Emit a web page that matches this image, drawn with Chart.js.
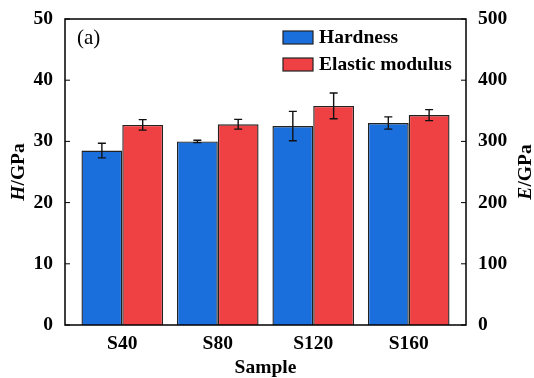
<!DOCTYPE html>
<html>
<head>
<meta charset="utf-8">
<script src="https://cdn.jsdelivr.net/npm/chart.js@4/dist/chart.umd.min.js"></script>
<style>
  html, body { margin: 0; padding: 0; background: #fff; }
  #wrap { width: 534px; height: 378px; }
</style>
</head>
<body>
<div id="wrap"><canvas id="myChart" width="534" height="378"></canvas></div>
<script>
const samples = ['S40', 'S80', 'S120', 'S160']
const hardness = [28.5, 30.0, 32.5, 33.0]
const hardnessErr = [1.2, 0.2, 2.4, 1.0]
const modulus = [327, 328, 358, 343]
const modulusErr = [8.5, 8, 21, 9]

const serif = "'Liberation Serif', 'Times New Roman', serif"
const blue = '#1b6fdd'
const red = '#ef4043'

// error bars, frame, inward ticks, legend and axis titles
const extras = {
  id: 'extras',
  afterDatasetsDraw(chart) {
    const ctx = chart.ctx
    const area = chart.chartArea
    ctx.save()
    ctx.strokeStyle = '#111'
    ctx.lineWidth = 1.4
    chart.data.datasets.forEach((ds, di) => {
      const meta = chart.getDatasetMeta(di)
      const scale = chart.scales[ds.yAxisID]
      meta.data.forEach((bar, i) => {
        const v = ds.data[i].y
        const e = ds.errors[i]
        const y1 = scale.getPixelForValue(v + e)
        const y2 = scale.getPixelForValue(v - e)
        ctx.beginPath()
        ctx.moveTo(bar.x, y1); ctx.lineTo(bar.x, y2)
        ctx.moveTo(bar.x - 4, y1); ctx.lineTo(bar.x + 4, y1)
        ctx.moveTo(bar.x - 4, y2); ctx.lineTo(bar.x + 4, y2)
        ctx.stroke()
      })
    })

    // frame
    ctx.strokeStyle = '#000'
    ctx.lineWidth = 1.5
    ctx.strokeRect(area.left, area.top, area.right - area.left, area.bottom - area.top)

    // inward tick marks
    ctx.lineWidth = 1
    chart.scales.y.ticks.forEach(t => {
      const y = chart.scales.y.getPixelForValue(t.value)
      ctx.beginPath(); ctx.moveTo(area.left, y); ctx.lineTo(area.left + 5, y); ctx.stroke()
    })
    chart.scales.y2.ticks.forEach(t => {
      const y = chart.scales.y2.getPixelForValue(t.value)
      ctx.beginPath(); ctx.moveTo(area.right, y); ctx.lineTo(area.right - 5, y); ctx.stroke()
    })

    // legend
    ctx.textBaseline = 'middle'
    ctx.textAlign = 'left'
    ctx.font = 'bold 19.5px ' + serif
    chart.data.datasets.forEach((ds, di) => {
      const top = 31 + di * 27
      ctx.fillStyle = ds.backgroundColor
      ctx.fillRect(283, top, 30, 13)
      ctx.strokeStyle = '#222'
      ctx.lineWidth = 1.2
      ctx.strokeRect(283, top, 30, 13)
      ctx.fillStyle = '#000'
      ctx.fillText(ds.label, 319, top + 7)
    })

    // panel label
    ctx.font = '21px ' + serif
    ctx.fillText('(a)', 77, 38)

    // axis titles with italic symbol
    const title = (x, sym, rest) => {
      ctx.save()
      ctx.translate(x, (area.top + area.bottom) / 2)
      ctx.rotate(-Math.PI / 2)
      ctx.font = 'italic bold 19.5px ' + serif
      const w1 = ctx.measureText(sym).width
      ctx.font = 'bold 19.5px ' + serif
      const w2 = ctx.measureText(rest).width
      const start = -(w1 + w2) / 2
      ctx.font = 'italic bold 19.5px ' + serif
      ctx.fillText(sym, start, 0)
      ctx.font = 'bold 19.5px ' + serif
      ctx.fillText(rest, start + w1, 0)
      ctx.restore()
    }
    title(19, 'H', '/GPa')
    title(526, 'E', '/GPa')
    ctx.restore()
  }
}

function fitY(width) {
  return s => {
    s.width = width
    s.paddingTop = 0
    s.paddingBottom = 0
  }
}

function createChart() {
  const ctx = document.getElementById('myChart')
  new Chart(ctx, {
    type: 'bar',
    data: {
      datasets: [{
        label: 'Hardness',
        data: hardness.map((v, i) => ({ x: i + 1, y: v })),
        errors: hardnessErr,
        yAxisID: 'y',
        backgroundColor: blue,
        borderColor: '#222',
        borderWidth: 1.4
      }, {
        label: 'Elastic modulus',
        data: modulus.map((v, i) => ({ x: i + 1, y: v })),
        errors: modulusErr,
        yAxisID: 'y2',
        backgroundColor: red,
        borderColor: '#222',
        borderWidth: 1.4
      }]
    },
    options: {
      responsive: false,
      animation: false,
      categoryPercentage: 0.855,
      barPercentage: 1,
      layout: { padding: { top: 19, left: 0, right: 0, bottom: 0 } },
      plugins: { legend: { display: false }, tooltip: { enabled: false } },
      scales: {
        x: {
          type: 'linear',
          min: 0.4,
          max: 4.6,
          offset: false,
          afterBuildTicks: s => { s.ticks = samples.map((n, i) => ({ value: i + 1 })) },
          afterFit: s => { s.height = 53 },
          grid: { display: false, offset: false, drawTicks: false },
          border: { display: false },
          ticks: {
            callback: v => samples[v - 1],
            color: '#000',
            padding: 7,
            maxRotation: 0,
            autoSkip: false,
            font: { family: serif, size: 19.5, weight: 'bold' }
          },
          title: {
            display: true,
            text: 'Sample',
            color: '#000',
            padding: 0,
            font: { family: serif, size: 19.5, weight: 'bold', lineHeight: 1.0 }
          }
        },
        y: {
          position: 'left',
          min: 0,
          max: 50,
          ticks: { stepSize: 10, color: '#000', padding: 12, font: { family: serif, size: 19.5, weight: 'bold' } },
          afterFit: fitY(65),
          grid: { display: false, drawTicks: false },
          border: { display: false }
        },
        y2: {
          position: 'right',
          min: 0,
          max: 500,
          ticks: { stepSize: 100, color: '#000', padding: 12, font: { family: serif, size: 19.5, weight: 'bold' } },
          afterFit: fitY(68),
          grid: { display: false, drawTicks: false },
          border: { display: false }
        }
      }
    },
    plugins: [extras]
  })
}

createChart()
</script>
</body>
</html>
